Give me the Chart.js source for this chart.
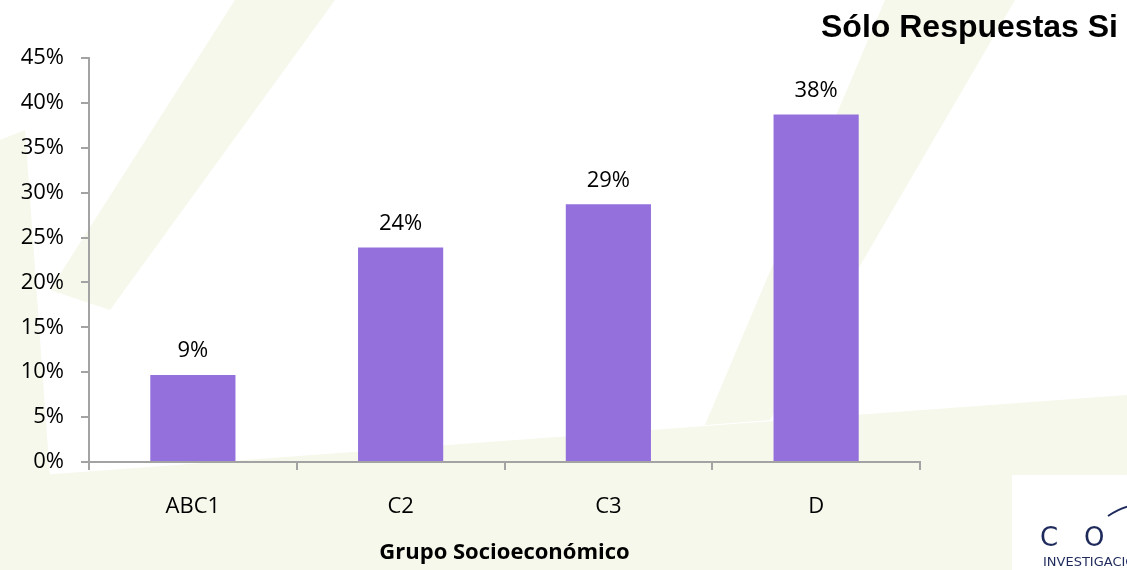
<!DOCTYPE html>
<html>
<head>
<meta charset="utf-8">
<script src="https://cdn.jsdelivr.net/npm/chart.js@4.4.0/dist/chart.umd.min.js"></script>
<style>
  html, body { margin: 0; padding: 0; background: #fff; }
  #wrap { width: 1127px; height: 570px; position: relative; }
</style>
</head>
<body>
<div id="wrap"><canvas id="socioChart" width="1127" height="570"></canvas></div>
<script>
const grupos = ["ABC1", "C2", "C3", "D"];
const respuestasSi = [9.7, 23.9, 28.7, 38.7];
const etiquetas = ["9%", "24%", "29%", "38%"];
const tituloGrafico = "Sólo Respuestas Si";
const tituloEjeX = "Grupo Socioeconómico";

const tickFont = { family: "Open Sans", size: 22 };
const axisGray = "#a3a3a3";

// light green watermark shapes + logo box behind the chart
const backdrop = {
  id: "backdrop",
  beforeDraw(chart) {
    const { ctx, width, height } = chart;
    ctx.save();
    ctx.fillStyle = "#ffffff";
    ctx.fillRect(0, 0, width, height);
    ctx.fillStyle = "#f5f8eb";
    const shapes = [
      [[0, 478], [1127, 395], [1127, 570], [0, 570]],
      [[0, 140], [25, 130], [50, 478], [0, 482]],
      [[235, 0], [335, 0], [110, 310], [50, 290]],
      [[885, 0], [1015, 0], [770, 420], [705, 425]],
    ];
    shapes.forEach((pts) => {
      ctx.beginPath();
      ctx.moveTo(pts[0][0], pts[0][1]);
      pts.slice(1).forEach((p) => ctx.lineTo(p[0], p[1]));
      ctx.closePath();
      ctx.fill();
    });
    // logo corner
    ctx.fillStyle = "#ffffff";
    ctx.fillRect(1012, 475, 115, 95);
    ctx.fillStyle = "#1f2a5c";
    ctx.font = "26px 'DejaVu Sans'";
    ctx.textBaseline = "alphabetic";
    ctx.fillText("C", 1040, 546);
    ctx.fillText("O", 1084, 546);
    ctx.font = "13px 'DejaVu Sans'";
    ctx.fillText("INVESTIGACIÓN", 1043, 566);
    ctx.strokeStyle = "#1f2a5c";
    ctx.lineWidth = 2;
    ctx.beginPath();
    ctx.moveTo(1108, 516);
    ctx.quadraticCurveTo(1120, 508, 1130, 506);
    ctx.stroke();
    ctx.restore();
  },
};

// value labels above bars and the title
const valueLabels = {
  id: "valueLabels",
  afterDatasetsDraw(chart) {
    const { ctx } = chart;
    const meta = chart.getDatasetMeta(0);
    ctx.save();
    ctx.fillStyle = "#000";
    ctx.font = "22px 'Open Sans'";
    ctx.textAlign = "center";
    ctx.textBaseline = "middle";
    meta.data.forEach((bar, i) => {
      ctx.fillText(etiquetas[i], bar.x, bar.y - 24);
    });
    ctx.font = "bold 32px 'Liberation Sans'";
    ctx.textAlign = "right";
    ctx.fillText(tituloGrafico, 1118, 28);
    ctx.restore();
  },
};

const ctx = document.getElementById("socioChart").getContext("2d");
new Chart(ctx, {
  type: "bar",
  data: {
    labels: grupos,
    datasets: [
      {
        data: respuestasSi,
        backgroundColor: "#9370DB",
        borderWidth: 0,
        categoryPercentage: 1,
        barPercentage: 0.41,
      },
    ],
  },
  options: {
    responsive: false,
    animation: false,
    events: [],
    layout: { padding: { top: 58, right: 207, bottom: 0, left: 0 } },
    plugins: {
      legend: { display: false },
      tooltip: { enabled: false },
    },
    scales: {
      y: {
        min: 0,
        max: 45,
        ticks: {
          stepSize: 5,
          color: "#000",
          font: tickFont,
          padding: 17,
          callback: (v) => v + "%",
        },
        grid: {
          drawOnChartArea: false,
          color: axisGray,
          lineWidth: 2,
          tickLength: 8,
        },
        border: { color: axisGray, width: 2 },
        afterFit: (scale) => {
          scale.width = 89;
        },
      },
      x: {
        ticks: { color: "#000", font: tickFont, padding: 24 },
        grid: {
          offset: true,
          drawOnChartArea: false,
          color: axisGray,
          lineWidth: 2,
          tickLength: 8,
        },
        border: { color: axisGray, width: 2 },
        title: {
          display: true,
          text: tituloEjeX,
          color: "#000",
          font: { family: "Open Sans", size: 22, weight: "bold" },
          padding: { top: 10 },
        },
        afterFit: (scale) => {
          scale.height = 108;
        },
      },
    },
  },
  plugins: [backdrop, valueLabels],
});
</script>
</body>
</html>
